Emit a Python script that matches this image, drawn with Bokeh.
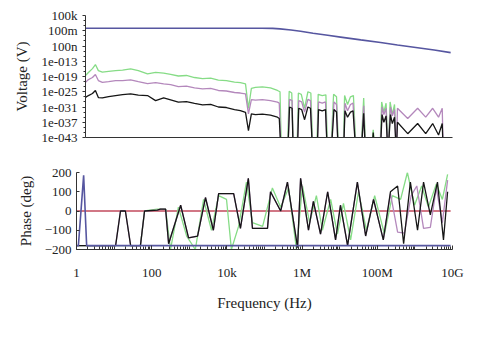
from bokeh.plotting import figure
from bokeh.layouts import column
from bokeh.models import FixedTicker, CustomJSTickFormatter, Range1d
from bokeh.embed import file_html
from bokeh.resources import INLINE

# ---------------- tick labels ----------------
freq_tick_exp = [0, 2, 4, 6, 8, 10]
freq_tick_labels = ["1", "100", "10k", "1M", "100M", "10G"]
volt_tick_exp = [5, -1, -7, -13, -19, -25, -31, -37, -43]
volt_tick_labels = ["100k", "100m", "100n", "1e-013", "1e-019", "1e-025",
                    "1e-031", "1e-037", "1e-043"]
phase_ticks = [-200, -100, 0, 100, 200]

# ---------------- top panel: voltage (log10 f, log10 V) ----------------
v_blue = [(0.0, 0.0), (4.8, 0.0), (5.1, -0.05), (5.3, -0.25), (5.6, -0.7),
          (5.86, -1.2), (6.2, -2.0), (6.6, -2.8), (6.95, -3.5), (7.5, -4.6),
          (8.04, -5.6), (8.5, -6.6), (9.0, -7.6), (9.5, -8.6), (9.95, -9.6)]

v_noise_logf = [0.00, 0.08, 0.19, 0.27, 0.35, 0.46, 0.63, 0.82, 1.01, 1.23, 1.44,
                1.69, 1.91, 2.13, 2.32, 2.53, 2.75, 2.97, 3.19, 3.41, 3.62, 3.84,
                4.06, 4.22, 4.36, 4.44, 4.52, 4.63, 4.82, 5.04, 5.23]
v_green_logv = [-18.6, -17.4, -15.9, -14.3, -16.7, -17.3, -17.0, -16.7, -16.5, -16.0,
                -16.7, -18.0, -17.4, -17.7, -18.2, -18.8, -18.6, -19.4, -19.8, -19.6,
                -20.4, -20.6, -21.2, -21.4, -21.9, -31.6, -23.7, -23.3, -23.1, -23.5,
                -24.5]
v_purple_logv = [-21.3, -20.2, -19.4, -18.2, -20.6, -21.3, -21.0, -20.6, -20.6, -20.3,
                 -21.0, -21.8, -21.4, -21.9, -22.2, -23.0, -22.8, -23.5, -23.9, -23.7,
                 -24.5, -24.7, -25.3, -25.5, -25.8, -33.7, -28.1, -28.3, -28.1, -28.5,
                 -29.1]
v_black_logv = [-27.2, -26.5, -25.7, -24.5, -27.3, -27.4, -26.9, -26.5, -26.1, -25.8,
                -26.3, -26.5, -28.5, -27.4, -28.2, -29.1, -28.9, -29.6, -30.2, -30.0,
                -31.0, -31.2, -32.0, -32.4, -33.1, -40.3, -33.7, -34.0, -33.8, -34.2,
                -35.0]

v_green_hf = [(5.30, -25.0), (5.34, -50), (5.50, -50), (5.55, -24.8), (5.62, -25.5),
              (5.67, -50), (5.76, -50), (5.80, -25.5), (5.88, -26.0), (5.97, -31.5),
              (6.06, -25.0), (6.14, -25.5), (6.20, -50), (6.30, -50), (6.34, -26.0),
              (6.45, -26.5), (6.55, -26.2), (6.60, -50), (6.68, -50), (6.76, -26.0),
              (6.84, -27.0), (6.90, -50), (7.02, -50), (7.06, -26.5), (7.14, -30.0),
              (7.22, -27.0), (7.30, -26.5), (7.38, -50), (7.50, -50), (7.58, -27.5),
              (7.64, -50), (7.78, -50), (7.84, -40.0), (7.90, -50), (8.02, -50),
              (8.07, -29.0), (8.13, -33.0), (8.19, -29.5), (8.25, -50), (8.30, -29.0),
              (8.36, -34.0), (8.42, -30.0), (8.48, -50), (9.75, -50)]
v_purple_hf = [(5.28, -29.5), (5.33, -50), (5.51, -50), (5.56, -28.0), (5.63, -28.5),
               (5.66, -50), (5.77, -50), (5.81, -28.5), (5.89, -29.0), (5.97, -33.0),
               (6.06, -28.0), (6.13, -28.5), (6.19, -50), (6.31, -50), (6.35, -29.0),
               (6.45, -29.5), (6.54, -29.0), (6.59, -50), (6.69, -50), (6.77, -29.0),
               (6.84, -30.0), (6.89, -50), (7.03, -50), (7.07, -29.5), (7.14, -32.5),
               (7.22, -30.0), (7.29, -29.5), (7.37, -50), (7.51, -50), (7.58, -30.5),
               (7.63, -50), (8.03, -50), (8.08, -31.0), (8.13, -34.0), (8.19, -31.5),
               (8.24, -50), (8.31, -31.0), (8.36, -34.5), (8.42, -32.0), (8.47, -50),
               (8.50, -31.5), (8.78, -35.5), (9.05, -31.5), (9.27, -35.0), (9.46, -31.5),
               (9.62, -35.0), (9.72, -31.5), (9.75, -50)]
v_black_hf = [(5.28, -35.5), (5.33, -50), (5.51, -50), (5.56, -31.0), (5.63, -31.5),
              (5.66, -50), (5.77, -50), (5.81, -31.5), (5.89, -32.0), (5.97, -36.0),
              (6.06, -31.0), (6.13, -31.5), (6.19, -50), (6.31, -50), (6.35, -32.0),
              (6.45, -32.5), (6.54, -32.0), (6.59, -50), (6.69, -50), (6.77, -32.0),
              (6.84, -33.0), (6.89, -50), (7.03, -50), (7.07, -32.5), (7.14, -35.0),
              (7.22, -33.0), (7.29, -32.5), (7.37, -50), (7.51, -50), (7.58, -33.5),
              (7.63, -50), (7.80, -50), (7.84, -41.0), (7.88, -50), (8.03, -50),
              (8.08, -34.0), (8.13, -37.0), (8.19, -34.5), (8.24, -50), (8.31, -34.0),
              (8.36, -37.5), (8.42, -35.0), (8.47, -50), (8.50, -37.0), (8.78, -41.5),
              (9.05, -37.5), (9.27, -41.5), (9.46, -37.5), (9.62, -42.0), (9.72, -37.5),
              (9.75, -50)]

# ---------------- bottom panel: phase (log10 f, degrees) ----------------
ph_red = [(0.0, 0), (9.95, 0)]
ph_blue = [(0.0, -180), (0.05, -180), (0.19, 185), (0.27, -180), (9.95, -180)]
ph_black = [(0.00, -180), (1.04, -180), (1.17, 0), (1.30, 0), (1.44, -180), (1.70, -180),
            (1.81, 0), (2.15, 5), (2.23, 10), (2.37, 10), (2.45, -170), (2.77, 30),
            (2.98, -140), (3.22, -130), (3.43, 70), (3.64, -100), (3.78, 90), (4.18, 90),
            (4.36, -90), (4.57, 170), (4.68, -90), (5.08, -90), (5.16, 100), (5.43, 0),
            (5.61, 150), (5.88, -190), (5.96, 170), (6.17, -100), (6.30, 50), (6.49, -120),
            (6.68, 100), (6.89, -150), (7.02, 30), (7.21, -180), (7.47, 150), (7.69, -130),
            (7.90, 60), (8.16, -150), (8.35, 100), (8.54, 130), (8.70, -170), (8.88, 150),
            (9.07, -100), (9.23, 150), (9.41, -20), (9.60, 150), (9.76, -150), (9.87, 100)]
ph_green = [(0.00, -180), (1.70, -180), (1.81, 0), (2.15, 10), (2.37, 10), (2.50, -200),
            (2.71, 20), (2.93, -130), (3.16, -200), (3.38, 60), (3.59, -100), (3.78, 80),
            (3.99, 60), (4.12, -200), (4.31, -80), (4.52, 150), (4.68, -60), (4.95, -80),
            (5.21, 120), (5.43, 20), (5.64, 120), (5.85, -200), (6.01, 130), (6.20, -60),
            (6.38, 80), (6.54, -100), (6.76, 60), (6.94, -120), (7.10, 40), (7.29, -150),
            (7.50, 100), (7.71, -100), (7.93, 80), (8.19, -120), (8.40, 80), (8.62, 60),
            (8.80, 200), (8.99, 30), (9.18, 130), (9.36, 20), (9.57, 140), (9.73, 60),
            (9.87, 190)]
# purple runs under the black trace up to ~80 MHz, then separates
ph_purple_tail = [(8.16, -150), (8.35, 90), (8.54, -110), (8.72, -115), (8.90, 80),
                  (9.05, 130), (9.23, -90), (9.41, -85), (9.57, 120), (9.73, -60),
                  (9.87, 160)]
ph_purple = [pt for pt in ph_black if pt[0] <= 7.90] + ph_purple_tail

FONT = "Liberation Serif"
C_BLUE, C_GREEN, C_PURPLE, C_BLACK, C_RED = "#5656a0", "#86dc86", "#b488bc", "#161616", "#c24a5c"
AX = "#333333"


def lin_xy(pairs):
    return [10 ** a for a, _ in pairs], [b for _, b in pairs]


def log_xy(pairs):
    return [10 ** a for a, _ in pairs], [10 ** b for _, b in pairs]


def style_common(p):
    p.outline_line_color = None
    p.grid.visible = False
    p.background_fill_color = "white"
    p.border_fill_color = "white"
    for ax in p.axis:
        ax.axis_line_color = AX
        ax.major_tick_line_color = AX
        ax.minor_tick_line_color = AX
        ax.major_label_text_font = FONT
        ax.major_label_text_font_size = "13px"
        ax.major_label_text_color = "#222222"
        ax.axis_label_text_font = FONT
        ax.axis_label_text_font_size = "15px"
        ax.axis_label_text_font_style = "normal"
        ax.axis_label_text_color = "#222222"


# ---------- top figure ----------
p1 = figure(width=500, height=150, x_axis_type="log", y_axis_type="log",
            x_range=Range1d(1, 1e10), y_range=Range1d(1e-43, 1e5),
            output_backend="svg", toolbar_location=None, frame_align=False,
            min_border_left=85, min_border_right=48, min_border_top=15, min_border_bottom=13)
style_common(p1)
p1.xaxis.ticker = FixedTicker(ticks=[], minor_ticks=[])
p1.xaxis.major_tick_line_color = None
p1.xaxis.minor_tick_line_color = None
volt_major = [float(f"1e{e}") for e in volt_tick_exp]
volt_minor = [float(f"1e{e}") for e in range(-43, 6) if (e + 43) % 2 == 0 and (e + 43) % 6 != 0]
p1.yaxis.ticker = FixedTicker(ticks=volt_major, minor_ticks=volt_minor)
p1.yaxis.formatter = CustomJSTickFormatter(
    args=dict(exps=volt_tick_exp, labels=volt_tick_labels),
    code="const e = Math.round(Math.log10(tick)); const i = exps.indexOf(e); return i >= 0 ? labels[i] : '';")
p1.yaxis.axis_label = "Voltage (V)"
p1.yaxis.major_tick_out = 3
p1.yaxis.major_tick_in = 0
p1.yaxis.minor_tick_out = 2
p1.yaxis.minor_tick_in = 0
p1.yaxis.major_label_standoff = 5
p1.yaxis.axis_label_standoff = 8

bx, by = log_xy(v_blue)
p1.line(bx, by, color=C_BLUE, line_width=1.6)
gx = [10 ** a for a in v_noise_logf]
for base, hf, col in [(v_green_logv, v_green_hf, C_GREEN),
                      (v_purple_logv, v_purple_hf, C_PURPLE),
                      (v_black_logv, v_black_hf, C_BLACK)]:
    hx, hy = log_xy(hf)
    p1.line(gx + hx, [10 ** v for v in base] + hy, color=col, line_width=1.3)

# ---------- bottom figure ----------
p2 = figure(width=500, height=189, x_axis_type="log",
            x_range=Range1d(1, 1e10), y_range=Range1d(-200, 200),
            output_backend="svg", toolbar_location=None, frame_align=False,
            min_border_left=76, min_border_right=48, min_border_top=22, min_border_bottom=90)
style_common(p2)
freq_major = [float(f"1e{e}") for e in freq_tick_exp]
freq_minor = [k * float(f"1e{n}") for n in range(0, 10) for k in range(2, 10)] + \
             [float(f"1e{n}") for n in range(1, 10, 2)]
p2.xaxis.ticker = FixedTicker(ticks=freq_major, minor_ticks=freq_minor)
p2.xaxis.formatter = CustomJSTickFormatter(
    args=dict(exps=freq_tick_exp, labels=freq_tick_labels),
    code="const e = Math.round(Math.log10(tick)); const i = exps.indexOf(e); return i >= 0 ? labels[i] : '';")
p2.xaxis.major_tick_in = 4
p2.xaxis.major_tick_out = 0
p2.xaxis.minor_tick_in = 3
p2.xaxis.minor_tick_out = 0
p2.xaxis.major_label_standoff = 15
p2.xaxis.axis_label = "Frequency (Hz)"
p2.xaxis.axis_label_standoff = 12
p2.yaxis.ticker = FixedTicker(ticks=phase_ticks, minor_ticks=[])
p2.yaxis.axis_label = "Phase (deg)"
p2.yaxis.major_tick_in = 3
p2.yaxis.major_tick_out = 0
p2.yaxis.major_label_standoff = 5
p2.yaxis.axis_label_standoff = 8

for pairs, col, lw in [(ph_red, C_RED, 1.4), (ph_green, C_GREEN, 1.3),
                       (ph_purple, C_PURPLE, 1.3), (ph_black, C_BLACK, 1.3),
                       (ph_blue, C_BLUE, 1.6)]:
    xs, ys = lin_xy(pairs)
    p2.line(xs, ys, color=col, line_width=lw)

layout = column(p1, p2, spacing=0)
open("out.html", "w").write(file_html(layout, INLINE))
